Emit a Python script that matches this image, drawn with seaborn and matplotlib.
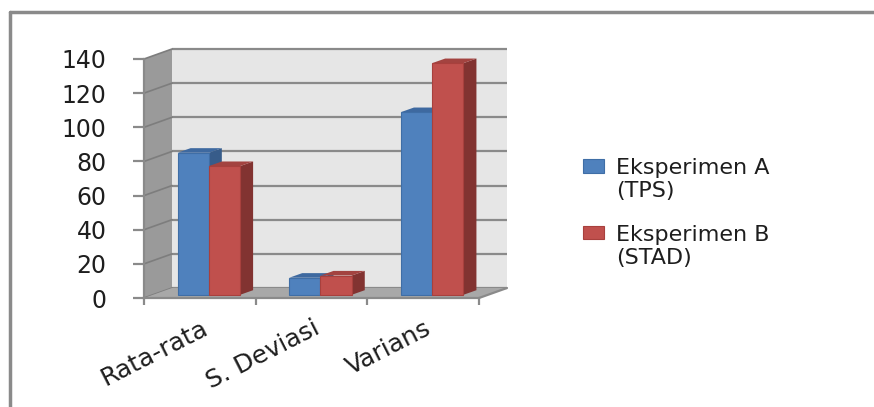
import matplotlib
matplotlib.use('Agg')
import matplotlib.pyplot as plt
import matplotlib.transforms as mtransforms
from matplotlib.patches import Polygon, Rectangle
from matplotlib.lines import Line2D
from matplotlib.legend_handler import HandlerPatch
import seaborn as sns
import pandas as pd
import numpy as np

# ---------------- data ----------------
categories = ['Rata-rata', 'S. Deviasi', 'Varians']
series_names = ['Eksperimen A\n(TPS)', 'Eksperimen B\n(STAD)']
values_a = [83.2, 10.0, 107.0]
values_b = [75.4, 11.3, 135.7]
y_ticks = [0, 20, 40, 60, 80, 100, 120, 140]

# ---------------- style ----------------
front_colors = ['#4f81bd', '#c0504d']
edge_colors = ['#3f6ea6', '#a8403d']
side_colors = ['#375c8a', '#823331']
top_colors = ['#3e69a0', '#a34340']
grid_c = '#8a8a8a'

W, H = 874, 407
sns.set_style('white')
plt.rcParams['font.family'] = ['DejaVu Sans']
fig = plt.figure(figsize=(W / 100, H / 100), dpi=100)

# front plane of the 3-D box (pixel coords)
L, R, T, B = 144, 479, 59, 298
ax = fig.add_axes([L / W, 1 - B / H, (R - L) / W, (B - T) / H])
ax.set_facecolor('none')

df = pd.DataFrame({
    'Kategori': categories * 2,
    'Nilai': values_a + values_b,
    'Kelompok': [series_names[0]] * len(categories) + [series_names[1]] * len(categories),
})
sns.barplot(data=df, x='Kategori', y='Nilai', hue='Kelompok', palette=front_colors,
            saturation=1, width=0.56, errorbar=None, ax=ax, linewidth=0.8)
ax.set_xlim(-0.5, len(categories) - 0.5)
ax.set_ylim(0, 140)
ax.set_xlabel('')
ax.set_ylabel('')

def px2data(dx, dy):
    p0 = ax.transData.transform((0, 0))
    return ax.transData.inverted().transform(p0 + np.array([dx, dy]))

x_lo, x_hi = ax.get_xlim()
wdx, wdy = px2data(28, 10)        # depth of the walls
bdx, bdy = px2data(13, 4.6)       # depth of a bar

# back wall
ax.add_patch(Rectangle((x_lo + wdx, wdy), x_hi - x_lo, 140, facecolor='#e6e6e6',
                       edgecolor='none', zorder=0.1, clip_on=False))
for yv in y_ticks:
    ax.plot([x_lo + wdx, x_hi + wdx], [yv + wdy, yv + wdy], color=grid_c, lw=1.6,
            zorder=0.2, clip_on=False, solid_capstyle='butt')
# side wall
ax.add_patch(Polygon([(x_lo, 0), (x_lo, 140), (x_lo + wdx, 140 + wdy), (x_lo + wdx, wdy)],
                     closed=True, facecolor='#9a9a9a', edgecolor='none', zorder=0.3,
                     clip_on=False))
for yv in y_ticks:
    ax.plot([x_lo, x_lo + wdx], [yv, yv + wdy], color='#7d7d7d', lw=1.2, zorder=0.4,
            clip_on=False)
# floor
ax.add_patch(Polygon([(x_lo, 0), (x_hi, 0), (x_hi + wdx, wdy), (x_lo + wdx, wdy)],
                     closed=True, facecolor='#a8a8a8', edgecolor='none', zorder=0.5,
                     clip_on=False))
ax.plot([x_hi, x_hi + wdx], [0, wdy], color=grid_c, lw=1.6, zorder=0.6, clip_on=False)

# 3-D bars: shift front faces back into the box and add side/top faces
bar_tr = mtransforms.offset_copy(ax.transData, fig=fig, x=9, y=3.2, units='dots')
for hi, cont in enumerate(ax.containers):
    for p in cont:
        x0, w, h = p.get_x(), p.get_width(), p.get_height()
        p.set_transform(bar_tr)
        p.set_clip_on(False)
        p.set_edgecolor(edge_colors[hi])
        p.set_zorder(3 + 2 * hi + 0.5)
        ax.add_patch(Polygon([(x0 + w, 0), (x0 + w, h), (x0 + w + bdx, h + bdy),
                              (x0 + w + bdx, bdy)], closed=True, transform=bar_tr,
                             facecolor=side_colors[hi], edgecolor='none',
                             zorder=3 + 2 * hi, clip_on=False))
        ax.add_patch(Polygon([(x0, h), (x0 + w, h), (x0 + w + bdx, h + bdy),
                              (x0 + bdx, h + bdy)], closed=True, transform=bar_tr,
                             facecolor=top_colors[hi], edgecolor='none',
                             zorder=3 + 2 * hi, clip_on=False))

# axes lines / ticks
for s in ['top', 'right']:
    ax.spines[s].set_visible(False)
for s in ['left', 'bottom']:
    ax.spines[s].set_color(grid_c)
    ax.spines[s].set_linewidth(1.6)
ax.set_yticks(y_ticks)
ax.set_yticklabels([str(v) for v in y_ticks])
ax.tick_params(axis='y', direction='out', length=8, width=1.6, color=grid_c,
               pad=19, labelsize=17, labelcolor='#1e1e1e', left=True)
ax.set_xticks(range(len(categories)))
ax.set_xticklabels(categories)
ax.set_xticks(np.arange(-0.5, len(categories), 1.0), minor=True)
ax.tick_params(axis='x', which='major', length=0, pad=13, labelsize=18,
               labelcolor='#1e1e1e')
ax.tick_params(axis='x', which='minor', direction='out', length=5, width=1.6,
               color=grid_c, bottom=True)
shift = mtransforms.ScaledTranslation(1 / 100, 0, fig.dpi_scale_trans)
for lab in ax.get_xticklabels():
    lab.set_rotation(27)
    lab.set_ha('right')
    lab.set_va('top')
    lab.set_rotation_mode('anchor')
    lab.set_transform(lab.get_transform() + shift)

# legend (marker aligned with the first line of each label)
handles, labels = ax.get_legend_handles_labels()
if ax.get_legend() is not None:
    ax.get_legend().remove()
for hdl, fc, ec in zip(handles, front_colors, edge_colors):
    hdl.set_facecolor(fc)
    hdl.set_edgecolor(ec)

def top_patch(legend, orig_handle, xdescent, ydescent, width, height, fontsize):
    return Rectangle((-xdescent, -ydescent + 0.62 * fontsize), width, height)

leg_fs = 16
leg = fig.legend(handles, labels, loc='upper left',
                 bbox_to_anchor=(583 / W, 1 - 158 / H), frameon=False,
                 fontsize=leg_fs, handlelength=0.95, handleheight=0.55,
                 handletextpad=0.55, labelspacing=1.05, borderpad=0,
                 borderaxespad=0,
                 handler_map={hh: HandlerPatch(patch_func=top_patch) for hh in handles})
for t in leg.get_texts():
    t.set_linespacing(1.2)
    t.set_color('#1e1e1e')

# outer frame (partly cropped in the reference)
fig.add_artist(Line2D([10 / W, 10 / W], [0, 1 - 12 / H], transform=fig.transFigure,
                      color='#8a8a8a', lw=2.5))
fig.add_artist(Line2D([10 / W, 1], [1 - 12 / H, 1 - 12 / H], transform=fig.transFigure,
                      color='#8a8a8a', lw=2.5))

fig.savefig('out.png', dpi=100, facecolor='white')
